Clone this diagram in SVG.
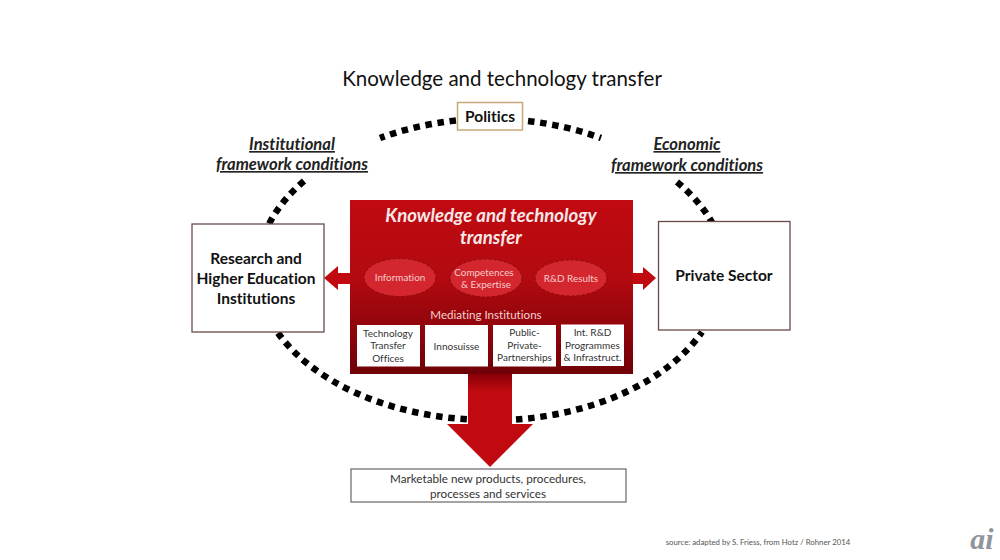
<svg xmlns="http://www.w3.org/2000/svg" width="1000" height="560" viewBox="0 0 1000 560">
<style>
text{font-family:"Lato","Open Sans","Liberation Sans",sans-serif;text-anchor:middle;font-variant-ligatures:none}
.box{fill:#fff;stroke:#6b4a4a;stroke-width:1.3}
.dots{fill:none;stroke:#000;stroke-width:6.5;stroke-dasharray:6.500 5.700}
.head{font-size:15.500px;font-weight:700;fill:#111}
.cond{font-size:16.600px;font-weight:700;font-style:italic;fill:#222;text-decoration:underline}
.oval{fill:#d4262e;stroke:#8a0a10;stroke-width:1;stroke-dasharray:3 2}
.ovt{font-size:9.900px;fill:#f6cccc}
.sm{font-size:10px;fill:#333}
.red{fill:#c00a10}
</style>
<defs>
<linearGradient id="g" x1="0" y1="0" x2="0" y2="1">
<stop offset="0" stop-color="#c00a10"/>
<stop offset=".45" stop-color="#b20a10"/>
<stop offset="1" stop-color="#6f0007"/>
</linearGradient>
<linearGradient id="d" gradientUnits="userSpaceOnUse" x1="0" y1="374" x2="0" y2="392">
<stop offset="0" stop-color="#8a0008"/>
<stop offset="1" stop-color="#c00a10"/>
</linearGradient>
</defs>
<text x="502" y="86" font-size="20.500" fill="#111">Knowledge and technology transfer</text>
<g id="connectors">
<path class="dots" d="M456 120.500A233 150 0 0 0 380 138"/>
<path class="dots" d="M304 181A233 150 0 0 0 268 226"/>
<path class="dots" d="M528 121A233 150 0 0 1 601 138"/>
<path class="dots" d="M677 182A233 150 0 0 1 714 226"/>
<path class="dots" d="M278 333A233 150 0 0 0 470 419.500"/>
<path class="dots" d="M516 419.500A233 150 0 0 0 702 332"/>
<path class="red" d="M350 273H338V266L324 278L338 290V284H350Z"/>
<path class="red" d="M633 273H643V267L656 278L643 290V284H633Z"/>
<path fill="url(#d)" d="M468 374H512V424H533L490 467L447 424H468Z"/>
</g>
<g id="politics">
<rect x="457.500" y="102.500" width="65" height="27.500" fill="#fff" stroke="#c8a878" stroke-width="1.500"/>
<text x="490" y="121.500" class="head">Politics</text>
</g>
<g id="institutional">
<text x="292" y="150" class="cond">Institutional</text>
<text x="292" y="170" class="cond">framework conditions</text>
</g>
<g id="economic">
<text x="687" y="150" class="cond">Economic</text>
<text x="687" y="171" class="cond">framework conditions</text>
</g>
<g id="research">
<rect class="box" x="192" y="224" width="132" height="108"/>
<text x="256" y="263.500" class="head">Research and</text>
<text x="256" y="284" class="head">Higher Education</text>
<text x="256" y="304" class="head">Institutions</text>
</g>
<g id="private">
<rect class="box" x="658.500" y="221.500" width="131.500" height="108.500"/>
<text x="724" y="281" class="head">Private Sector</text>
</g>
<g id="transfer">
<rect x="350" y="200" width="283" height="174" fill="url(#g)"/>
<text x="491" y="222" font-size="18.600" font-weight="700" font-style="italic" fill="#f8e8e8">Knowledge and technology</text>
<text x="491" y="244" font-size="18.600" font-weight="700" font-style="italic" fill="#f8e8e8">transfer</text>
<ellipse class="oval" cx="400" cy="277.500" rx="36" ry="19"/>
<text x="400" y="281" class="ovt">Information</text>
<ellipse class="oval" cx="486" cy="278" rx="36" ry="19"/>
<text x="484" y="276" class="ovt">Competences</text>
<text x="486" y="288" class="ovt">&amp; Expertise</text>
<ellipse class="oval" cx="571" cy="278" rx="36" ry="18"/>
<text x="571" y="282" class="ovt">R&amp;D Results</text>
<text x="486" y="319" font-size="11.600" fill="#f4d0d0">Mediating Institutions</text>
</g>
<g id="tto">
<rect x="357" y="325" width="63" height="41.500" fill="#fff"/>
<text x="388" y="337" class="sm">Technology</text>
<text x="388" y="349" class="sm">Transfer</text>
<text x="388" y="362" class="sm">Offices</text>
</g>
<g id="innosuisse">
<rect x="425" y="325" width="63" height="41.500" fill="#fff"/>
<text x="456.500" y="350" class="sm">Innosuisse</text>
</g>
<g id="ppp">
<rect x="493" y="325" width="63" height="41.500" fill="#fff"/>
<text x="524.500" y="336" class="sm">Public-</text>
<text x="524.500" y="349" class="sm">Private-</text>
<text x="524.500" y="361" class="sm">Partnerships</text>
</g>
<g id="intrd">
<rect x="561" y="324.500" width="63" height="41.500" fill="#fff"/>
<text x="592.500" y="336" class="sm">Int. R&amp;D</text>
<text x="592.500" y="349" class="sm">Programmes</text>
<text x="592.500" y="361" class="sm">&amp; Infrastruct.</text>
</g>
<g id="marketable">
<rect x="351" y="469" width="275" height="33" fill="#fff" stroke="#666" stroke-width="1.200"/>
<text x="488" y="483" font-size="11.700" fill="#333">Marketable new products, procedures,</text>
<text x="488" y="498" font-size="11.700" fill="#333">processes and services</text>
</g>
<text x="758" y="545" font-size="7.800" fill="#555">source: adapted by S. Friess, from Hotz / Rohner 2014</text>
<text x="982" y="549" font-size="30" font-weight="700" font-style="italic" fill="#8f959a" style="font-family:'Liberation Serif',serif">ai</text>
</svg>
